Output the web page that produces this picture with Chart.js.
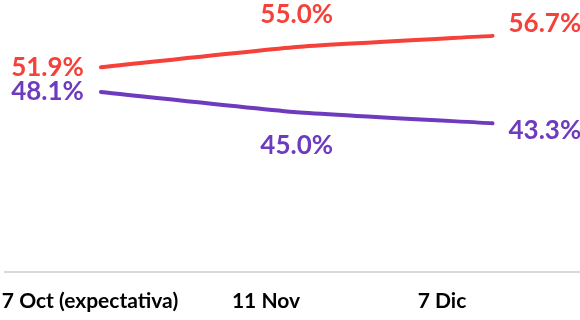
<!DOCTYPE html>
<html>
<head>
<meta charset="utf-8">
<script src="https://cdn.jsdelivr.net/npm/chart.js@4.4.1/dist/chart.umd.min.js"></script>
<style>
  html, body { margin: 0; padding: 0; background: #ffffff; }
  #wrap { width: 580px; height: 320px; position: relative; }
</style>
</head>
<body>
<div id="wrap"><canvas id="chart"></canvas></div>
<script>
// Fechas de la serie
const categories = ['7 Oct (expectativa)', '11 Nov', '7 Dic'];
// Porcentajes por candidato (%)
const redValues = [51.9, 55.0, 56.7];
const purpleValues = [48.1, 45.0, 43.3];

const RED = '#F5413A';
const PURPLE = '#6E3BBF';
const FONT = 'Lato, "Open Sans", "Noto Sans", sans-serif';

const toPoints = vals => vals.map((v, i) => ({ x: i, y: v }));

// Draws the percentage next to each point, read from the dataset values
const valueLabels = {
  id: 'valueLabels',
  afterDatasetsDraw(chart) {
    const ctx = chart.ctx;
    ctx.save();
    ctx.font = 'bold 26px ' + FONT;
    ctx.textBaseline = 'middle';
    chart.data.datasets.forEach((ds, di) => {
      const meta = chart.getDatasetMeta(di);
      meta.data.forEach((pt, i) => {
        const v = ds.data[i].y;
        const text = v.toFixed(1) + '%';
        const pos = ds.labelPos[i];
        ctx.fillStyle = ds.borderColor;
        let x = pt.x, y = pt.y + (pos.dy || 0);
        if (pos.side === 'left') { ctx.textAlign = 'right'; x -= 17; }
        else if (pos.side === 'right') { ctx.textAlign = 'left'; x += 16; }
        else { ctx.textAlign = 'center'; }
        ctx.fillText(text, x, y);
      });
    });
    ctx.restore();
  }
};

new Chart(document.getElementById('chart'), {
  type: 'line',
  data: {
    datasets: [
      {
        data: toPoints(redValues),
        borderColor: RED,
        backgroundColor: RED,
        borderWidth: 4,
        borderCapStyle: 'round',
        pointRadius: 0,
        tension: 0.15,
        labelPos: [{ side: 'left', dy: 0 }, { side: 'center', dy: -32 }, { side: 'right', dy: -12 }]
      },
      {
        data: toPoints(purpleValues),
        borderColor: PURPLE,
        backgroundColor: PURPLE,
        borderWidth: 4,
        borderCapStyle: 'round',
        pointRadius: 0,
        tension: 0.15,
        labelPos: [{ side: 'left', dy: 0 }, { side: 'center', dy: 33 }, { side: 'right', dy: 7 }]
      }
    ]
  },
  options: {
    responsive: true,
    maintainAspectRatio: false,
    animation: false,
    layout: { padding: { left: 5, right: 0, top: 0, bottom: 0 } },
    plugins: { legend: { display: false }, tooltip: { enabled: false } },
    scales: {
      x: {
        type: 'linear',
        display: false,
        min: -0.49,
        max: 2.447
      },
      xCat: {
        type: 'linear',
        position: 'bottom',
        min: -0.483,
        max: 2.784,
        afterBuildTicks: axis => { axis.ticks = categories.map((_, i) => ({ value: i })); },
        afterFit: axis => {
          axis.height = 48;
          axis.paddingLeft = 0;
          axis.paddingRight = 0;
        },
        grid: { display: false, drawTicks: false },
        border: { display: true, color: '#D9D9D9', width: 2 },
        ticks: {
          autoSkip: false,
          maxRotation: 0,
          padding: 17,
          color: '#000000',
          font: { family: FONT, size: 21, weight: 'bold', lineHeight: 1.2 },
          callback: v => categories[v]
        }
      },
      y: {
        display: false,
        min: 20.5,
        max: 62.2
      }
    }
  },
  plugins: [valueLabels]
});
</script>
</body>
</html>
